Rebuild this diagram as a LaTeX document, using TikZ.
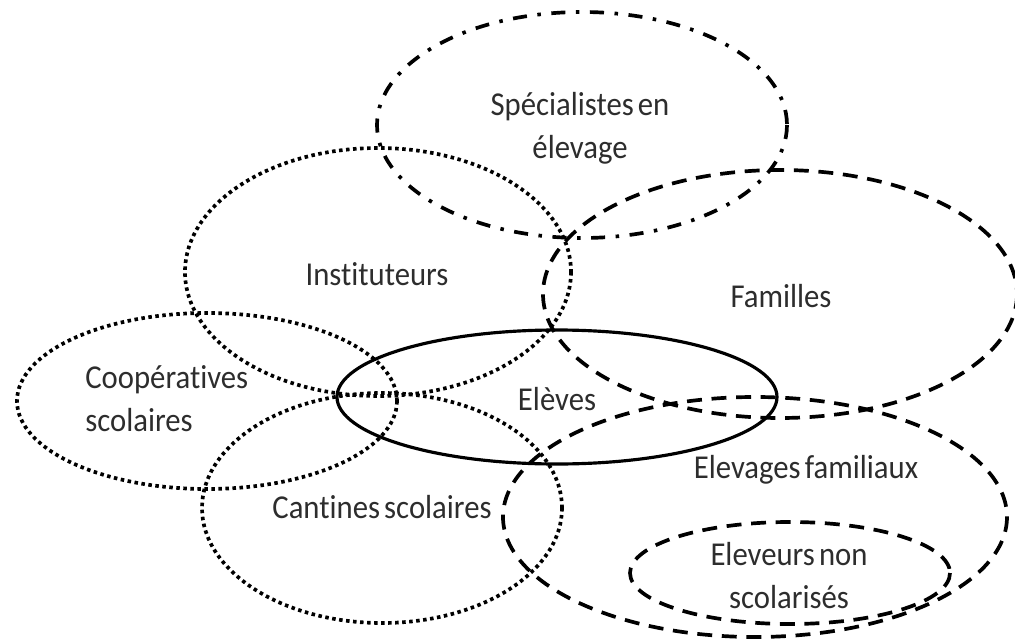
\documentclass[tikz,border=0pt]{standalone}
\usepackage{fontspec}
\setmainfont{Carlito}[FakeStretch=0.92, WordSpace=0.6, Ligatures=NoCommon]
\usetikzlibrary{positioning}
\definecolor{textgrey}{RGB}{45,45,45}

\begin{document}
\begin{tikzpicture}[x=0.02cm, y=-0.02cm,
    groupname/.style={font=\fontsize{19}{24.5}\selectfont, text=textgrey, inner sep=0pt, align=center},
    dotline/.style={line width=2.1pt, dash pattern=on 2pt off 2pt},
    dashline/.style={line width=2.1pt, dash pattern=on 8.5pt off 5.5pt},
    dashdotline/.style={line width=2.1pt, dash pattern=on 8pt off 6pt on 2pt off 6pt},
    solidline/.style={line width=1.8pt}]
  \useasboundingbox (0,0) rectangle (1015,642);
  % centres of the groups
  \coordinate (spec) at (582,125);
  \coordinate (inst) at (378,272);
  \coordinate (fam) at (780,294);
  \coordinate (coop) at (207,401);
  \coordinate (cant) at (382,508);
  \coordinate (elev) at (755,517);
  \coordinate (nonsc) at (790,573);
  \coordinate (eleves) at (557,397);
  \draw[dashdotline] (spec) ellipse [x radius=205, y radius=113];
  \draw[dotline] (inst) ellipse [x radius=193, y radius=124];
  \draw[dashline] (fam) ellipse [x radius=237, y radius=124];
  \draw[dotline] (coop) ellipse [x radius=190, y radius=88];
  \draw[dotline] (cant) ellipse [x radius=180, y radius=115];
  \draw[dashline] (elev) ellipse [x radius=252, y radius=120];
  \draw[dashline] (nonsc) ellipse [x radius=160, y radius=51];
  \draw[solidline] (eleves) ellipse [x radius=220, y radius=67];
  % names
  \node[groupname] (specname) at (580,128) {Spécialistes en\\élevage};
  \node[groupname, anchor=base] (instname) at (377,285) {Instituteurs};
  \node[groupname, anchor=base] (famname) at (781,307) {Familles};
  \node[groupname, anchor=west, align=left] (coopname) at (85,399) {Coopératives\\scolaires};
  \node[groupname, anchor=base] (elevesname) at (557,410) {Elèves};
  \node[groupname, anchor=base] (cantname) at (382,518) {Cantines scolaires};
  \node[groupname, anchor=base] (elevname) at (806,478) {Elevages familiaux};
  \node[groupname] (nonscname) at (789,576) {Eleveurs non\\scolarisés};
\end{tikzpicture}
\end{document}
